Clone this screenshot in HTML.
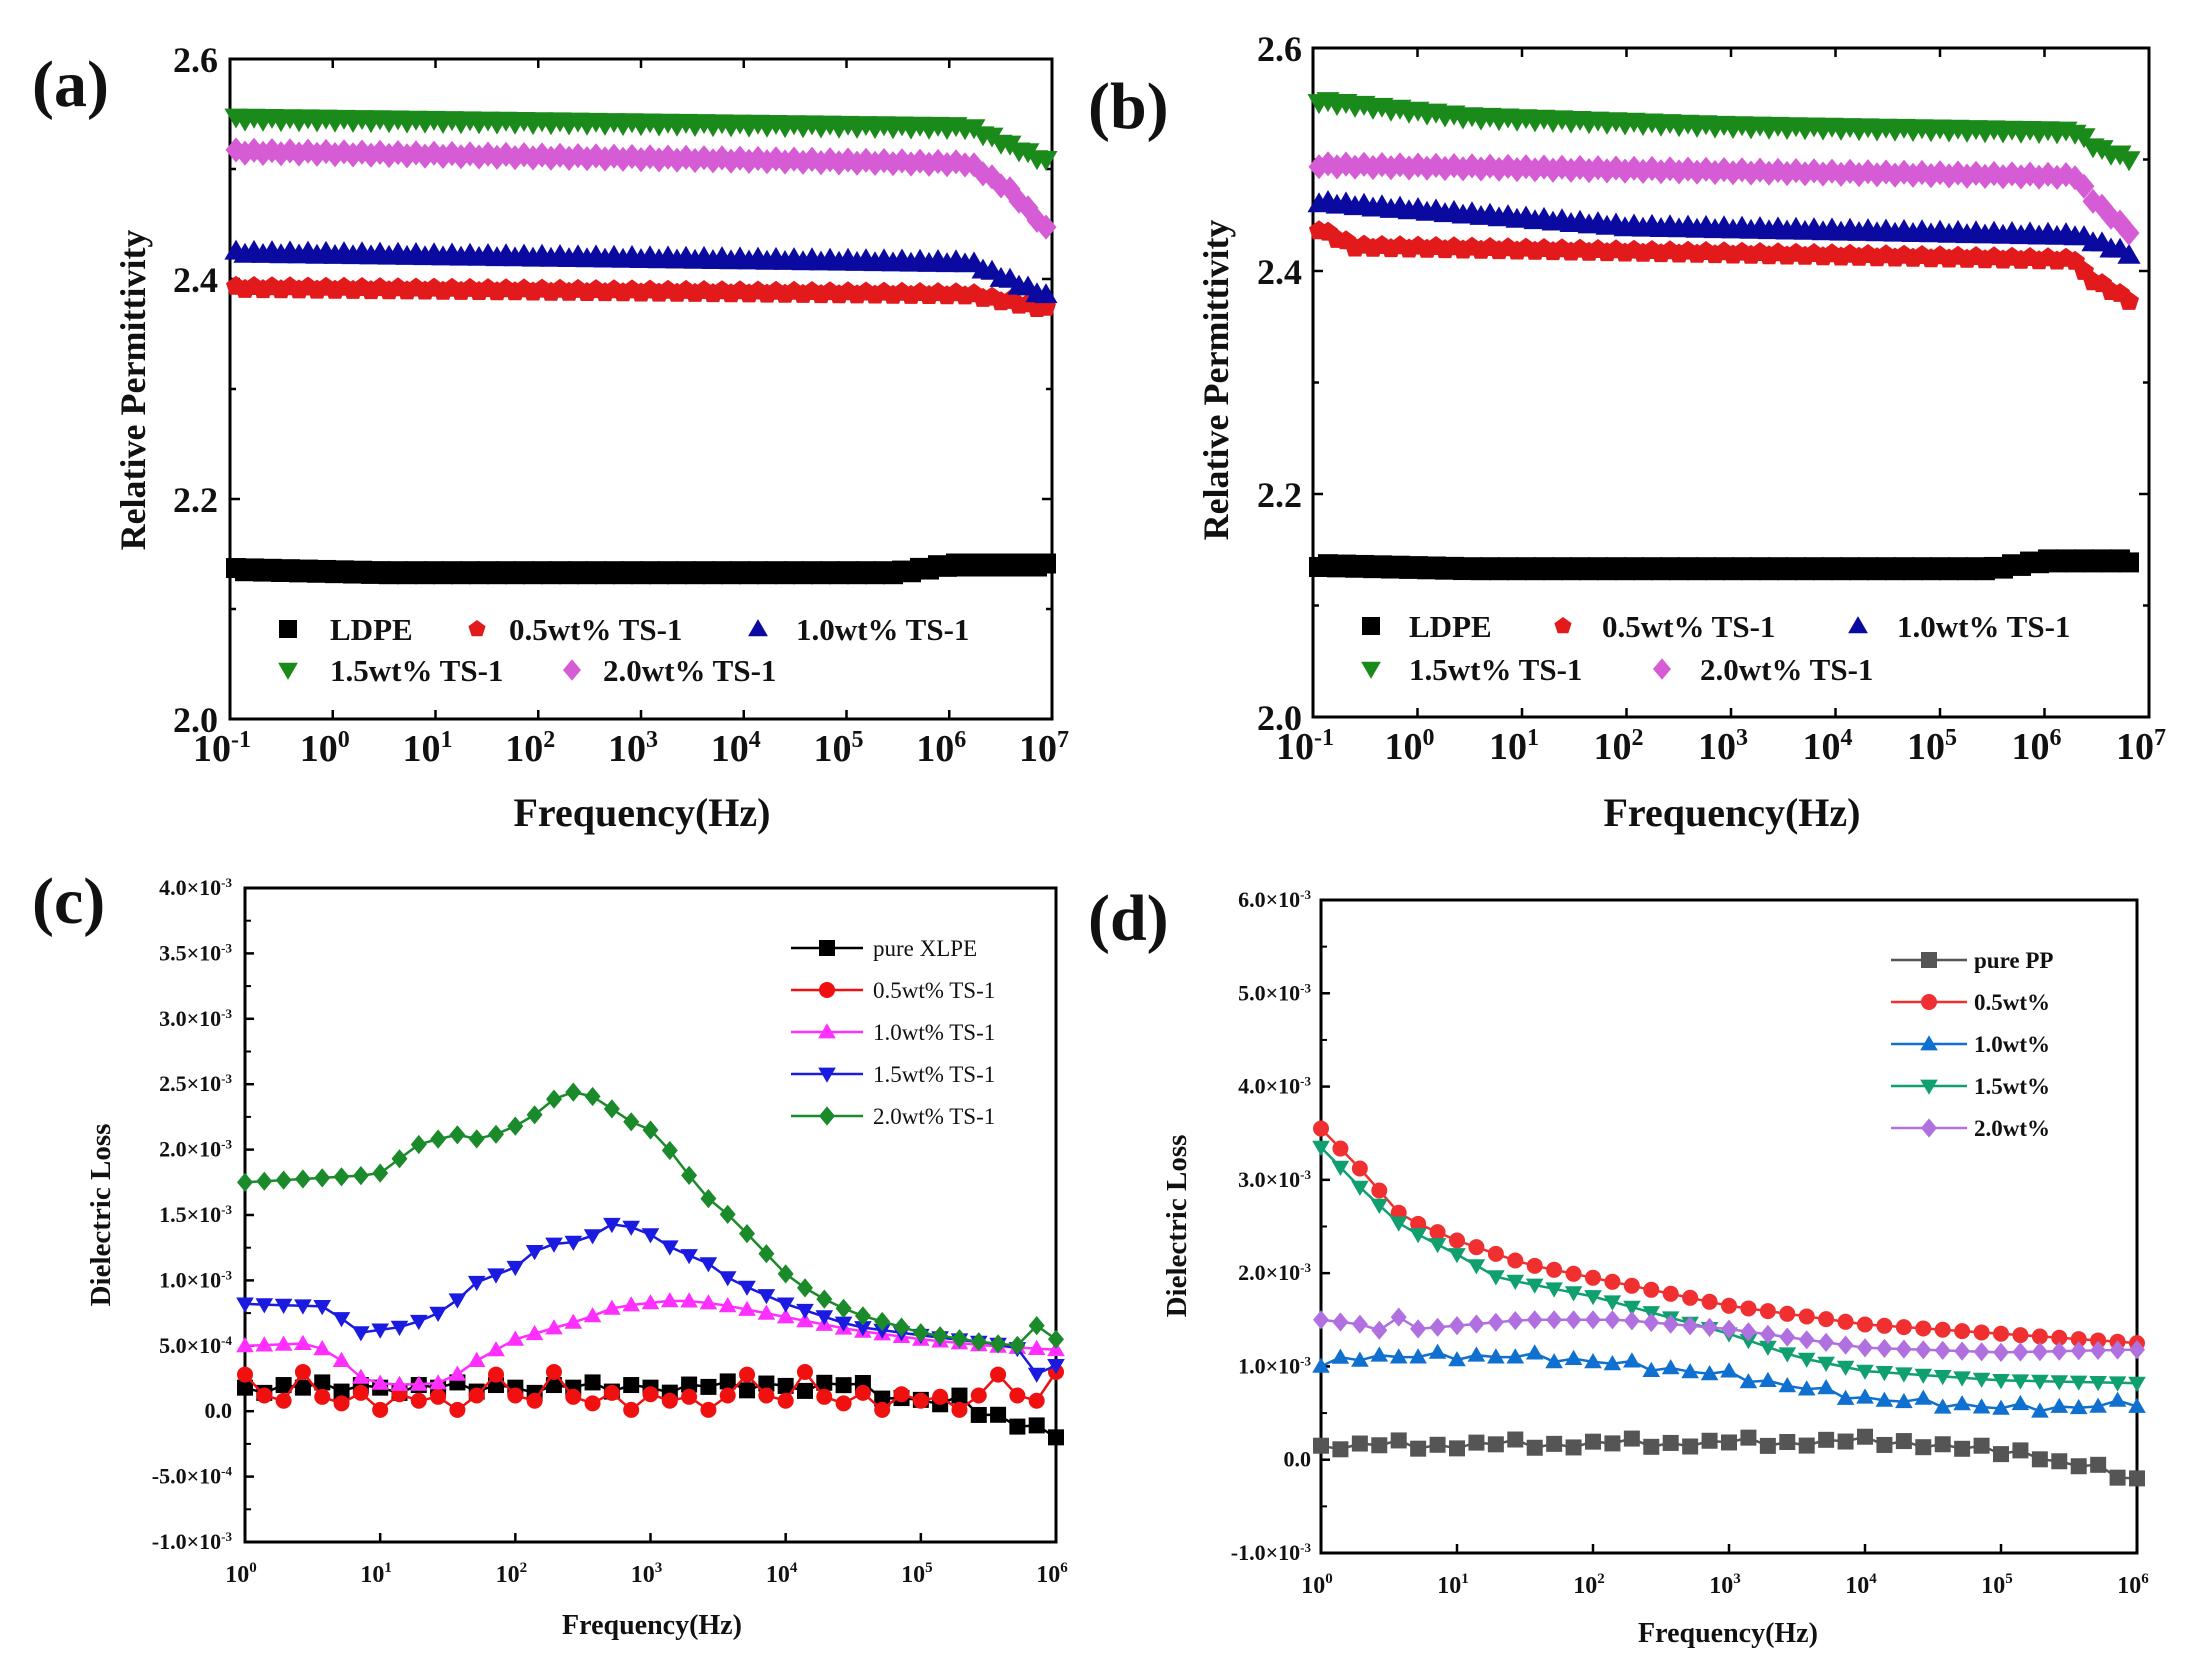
<!DOCTYPE html>
<html><head><meta charset="utf-8"><style>
html,body{margin:0;padding:0;background:#fff;}
svg{display:block;}
text{font-family:"Liberation Serif",serif;font-weight:bold;fill:#111;}
</style></head><body>
<svg id="s" xmlns="http://www.w3.org/2000/svg" width="2197" height="1680" viewBox="0 0 2197 1680">
<rect width="2197" height="1680" fill="#fff"/>
<g id="plots"></g>
<text x="32" y="106" font-size="66">(a)</text>
<text x="1088" y="128" font-size="66">(b)</text>
<text x="32" y="923" font-size="66">(c)</text>
<text x="1088" y="940" font-size="66">(d)</text>
<g font-size="36" text-anchor="end">
<text x="218" y="72">2.6</text><text x="218" y="292">2.4</text><text x="218" y="512">2.2</text><text x="218" y="732">2.0</text>
<text x="1302" y="61">2.6</text><text x="1302" y="284">2.4</text><text x="1302" y="507">2.2</text><text x="1302" y="730">2.0</text>
</g>
<g id="xa" font-size="38" text-anchor="middle"></g>
<text x="642" y="826" font-size="40" text-anchor="middle">Frequency(Hz)</text>
<text x="1732" y="826" font-size="40" text-anchor="middle">Frequency(Hz)</text>
<text transform="translate(145,390) rotate(-90)" font-size="36" text-anchor="middle">Relative Permittivity</text>
<text transform="translate(1228,380) rotate(-90)" font-size="36" text-anchor="middle">Relative Permittivity</text>
<g font-size="31">
<text x="330" y="640">LDPE</text><text x="509" y="640">0.5wt% TS-1</text><text x="796" y="640">1.0wt% TS-1</text>
<text x="330" y="681">1.5wt% TS-1</text><text x="603" y="681">2.0wt% TS-1</text>
<text x="1409" y="637">LDPE</text><text x="1602" y="637">0.5wt% TS-1</text><text x="1897" y="637">1.0wt% TS-1</text>
<text x="1409" y="680">1.5wt% TS-1</text><text x="1700" y="680">2.0wt% TS-1</text>
</g>
<g id="yc" font-size="22" text-anchor="end"></g>
<text x="652" y="1634" font-size="28" text-anchor="middle">Frequency(Hz)</text>
<text x="1728" y="1642" font-size="28" text-anchor="middle">Frequency(Hz)</text>
<text transform="translate(110,1215) rotate(-90)" font-size="29" text-anchor="middle">Dielectric Loss</text>
<text transform="translate(1186,1226) rotate(-90)" font-size="29" text-anchor="middle">Dielectric Loss</text>
<g font-size="23">
<text x="873" y="956" style="font-weight:normal">pure XLPE</text>
<text x="873" y="998" style="font-weight:normal">0.5wt% TS-1</text>
<text x="873" y="1040" style="font-weight:normal">1.0wt% TS-1</text>
<text x="873" y="1082" style="font-weight:normal">1.5wt% TS-1</text>
<text x="873" y="1124" style="font-weight:normal">2.0wt% TS-1</text>
</g>
<g font-size="23">
<text x="1974" y="968">pure PP</text><text x="1974" y="1010">0.5wt%</text><text x="1974" y="1052">1.0wt%</text>
<text x="1974" y="1094">1.5wt%</text><text x="1974" y="1136">2.0wt%</text>
</g>
</svg>
<script>
var NS="http://www.w3.org/2000/svg",P=document.getElementById('plots');
function el(t,a,par){var e=document.createElementNS(NS,t);for(var k in a)e.setAttribute(k,a[k]);(par||P).appendChild(e);return e;}
function mk(shape,x,y,s,c){
 var h=s/2,pts;
 if(shape=='sq')return el('rect',{x:x-h,y:y-h,width:s,height:s,fill:c});
 if(shape=='ci')return el('circle',{cx:x,cy:y,r:h,fill:c});
 if(shape=='up')pts=[[x,y-h*1.1],[x+h*1.1,y+h*0.8],[x-h*1.1,y+h*0.8]];
 if(shape=='dn')pts=[[x,y+h*1.1],[x+h*1.1,y-h*0.8],[x-h*1.1,y-h*0.8]];
 if(shape=='di')pts=[[x,y-h*1.2],[x+h,y],[x,y+h*1.2],[x-h,y]];
 if(shape=='pe'){pts=[];for(var i=0;i<5;i++){var a=-Math.PI/2+i*2*Math.PI/5;pts.push([x+h*Math.cos(a),y+h*Math.sin(a)]);}}
 return el('polygon',{points:pts.map(function(p){return p[0].toFixed(1)+','+p[1].toFixed(1)}).join(' '),fill:c});
}
function interp(k,t){if(t<=k[0][0])return k[0][1];for(var i=1;i<k.length;i++){if(t<=k[i][0]){var a=k[i-1],b=k[i];return a[1]+(b[1]-a[1])*(t-a[0])/(b[0]-a[0]);}}return k[k.length-1][1];}
function frame(x0,y0,x1,y1){el('rect',{x:x0,y:y0,width:x1-x0,height:y1-y0,fill:'none',stroke:'#000','stroke-width':3});}
function permPanel(x0,y0,x1,y1,xmax,data){
 frame(x0,y0,x1,y1);
 var X=function(t){return x0+(t+1)/8*(x1-x0)},Y=function(v){return y1-(v-2.0)/0.6*(y1-y0)};
 for(var d=-1;d<=7;d++){var x=X(d);el('line',{x1:x,y1:y1,x2:x,y2:y1-9,stroke:'#000','stroke-width':2.5});el('line',{x1:x,y1:y0,x2:x,y2:y0+9,stroke:'#000','stroke-width':2.5});
  var g=document.getElementById('xa');var t=el('text',{x:x-8,y:y1+42},g);t.textContent='10';var s=el('tspan',{dy:-14,'font-size':24},t);s.textContent=''+d;}
 for(var v=2.0;v<=2.61;v+=0.1){var y=Y(v),L=(Math.round(v*10)%2==0)?10:6;el('line',{x1:x0,y1:y,x2:x0+L,y2:y,stroke:'#000','stroke-width':2.5});el('line',{x1:x1,y1:y,x2:x1-L,y2:y,stroke:'#000','stroke-width':2.5});}
 data.forEach(function(s){
  for(var x=x0+6;x<=X(xmax);x+=9){var t=(x-x0)/(x1-x0)*8-1;var v=interp(s.k,t);mk(s.m,x,Y(v)+((Math.round(x/9)%2)?1.5:-1.5),s.sz||21,s.c);}
 });
}
permPanel(230,59,1052,719,7,[
 {m:'sq',c:'#000',k:[[-1,2.136],[0.5,2.133],[5.5,2.133],[6,2.14],[7,2.14]],sz:20},
 {m:'pe',c:'#e31a1c',k:[[-1,2.392],[6.2,2.386],[7,2.372]]},
 {m:'up',c:'#0a0aa0',k:[[-1,2.424],[6.2,2.415],[6.5,2.402],[7,2.382]]},
 {m:'di',c:'#d65cd6',k:[[-1,2.516],[6.2,2.505],[6.6,2.48],[7,2.44]]},
 {m:'dn',c:'#1a8a1a',k:[[-1,2.546],[6.2,2.538],[6.5,2.525],[7,2.505]]}
]);
permPanel(1313,48,2149,717,6.85,[
 {m:'sq',c:'#000',k:[[-1,2.136],[0.5,2.133],[5.5,2.133],[6,2.14],[7,2.14]],sz:20},
 {m:'pe',c:'#e31a1c',k:[[-1,2.44],[-0.6,2.422],[6.3,2.41],[6.4,2.395],[6.85,2.372]]},
 {m:'up',c:'#0a0aa0',k:[[-1,2.462],[2,2.44],[6.3,2.432],[6.85,2.414]]},
 {m:'di',c:'#d65cd6',k:[[-1,2.495],[6.3,2.485],[6.45,2.465],[6.85,2.432]]},
 {m:'dn',c:'#1a8a1a',k:[[-1,2.553],[0.5,2.538],[3,2.53],[6.3,2.525],[6.5,2.51],[6.85,2.50]]}
]);
function lossPanel(x0,y0,x1,y1,ymax,npd,series,ylabels,labx){
 frame(x0,y0,x1,y1);
 var X=function(t){return x0+t/6*(x1-x0)},Y=function(v){return y1-(v+1)/(ymax+1)*(y1-y0)};
 for(var d=0;d<=6;d++){var x=X(d);el('line',{x1:x,y1:y1,x2:x,y2:y1-9,stroke:'#000','stroke-width':2.5});
  var g=document.getElementById('xa');var t=el('text',{x:x-4,y:y1+40,'font-size':24},g);t.textContent='10';var s=el('tspan',{dy:-10,'font-size':15},t);s.textContent=''+d;}
 var yc=document.getElementById('yc');
 ylabels.forEach(function(l){var y=Y(l[0]);el('line',{x1:x0,y1:y,x2:x0+9,y2:y,stroke:'#000','stroke-width':2.5});
  var t=el('text',{x:labx,y:y+7},yc);t.textContent=l[1];if(l[2]){var s=el('tspan',{dy:-8,'font-size':13},t);s.textContent=l[2];}});
 var step=(ylabels[1][0]-ylabels[0][0])/2;
 for(var v=-1+step;v<ymax;v+=step*2){var y=Y(v);el('line',{x1:x0,y1:y,x2:x0+6,y2:y,stroke:'#000','stroke-width':2});}
 series.forEach(function(s){var pts=[];var n=Math.round(6*npd);
  for(var i=0;i<=n;i++){var t=i/npd;var v=interp(s.k,t)+(s.j?s.j[i%s.j.length]:0);pts.push([X(t),Y(v)]);}
  el('polyline',{points:pts.map(function(p){return p[0].toFixed(1)+','+p[1].toFixed(1)}).join(' '),fill:'none',stroke:s.c,'stroke-width':2.5});
  pts.forEach(function(p){mk(s.m,p[0],p[1],16,s.c);});
 });
}
var lc=[[-1,'-1.0×10','-3'],[-0.5,'-5.0×10','-4'],[0,'0.0'],[0.5,'5.0×10','-4'],[1,'1.0×10','-3'],[1.5,'1.5×10','-3'],[2,'2.0×10','-3'],[2.5,'2.5×10','-3'],[3,'3.0×10','-3'],[3.5,'3.5×10','-3'],[4,'4.0×10','-3']];
lossPanel(245,888,1056,1542,4,7,[
 {m:'sq',c:'#000',k:[[0,0.18],[3,0.18],[4.5,0.2],[4.85,0.08],[5.3,0.1],[5.45,-0.05],[5.8,-0.1],[6,-0.2]],j:[0,-0.04,0.02,0,0.04,-0.03,0.02]},
 {m:'ci',c:'#f01010',k:[[0,0.08],[6,0.08]],j:[0.2,0.04,0,0.22,0.03,-0.02,0.06,-0.07,0.05,0,0.03,-0.07,0.04]},
 {m:'up',c:'#ff30ff',k:[[0,0.5],[0.5,0.52],[0.7,0.4],[0.9,0.22],[1.2,0.2],[1.5,0.22],[1.65,0.35],[2,0.55],[2.5,0.7],[2.75,0.8],[3.2,0.85],[3.5,0.82],[4,0.72],[4.5,0.62],[5,0.55],[5.5,0.5],[6,0.47]]},
 {m:'dn',c:'#1a1ae0',k:[[0,0.82],[0.6,0.8],[0.85,0.6],[1.2,0.65],[1.5,0.78],[1.7,0.98],[2,1.1],[2.2,1.27],[2.5,1.3],[2.75,1.45],[3,1.35],[3.2,1.22],[3.4,1.15],[3.6,1.0],[4,0.82],[4.5,0.65],[5,0.58],[5.5,0.52],[5.7,0.5],[5.85,0.28],[6,0.35]]},
 {m:'di',c:'#1a8a2a',k:[[0,1.75],[0.85,1.8],[1,1.82],[1.3,2.05],[1.6,2.12],[1.75,2.07],[2,2.18],[2.2,2.3],[2.35,2.45],[2.5,2.43],[2.65,2.38],[2.8,2.22],[2.95,2.2],[3.1,2.05],[3.25,1.85],[3.4,1.65],[3.6,1.48],[3.75,1.32],[4,1.05],[4.2,0.9],[4.5,0.75],[5,0.6],[5.5,0.52],[5.75,0.5],[5.85,0.66],[6,0.55]]}
],lc,232);
var ld=[[-1,'-1.0×10','-3'],[0,'0.0'],[1,'1.0×10','-3'],[2,'2.0×10','-3'],[3,'3.0×10','-3'],[4,'4.0×10','-3'],[5,'5.0×10','-3'],[6,'6.0×10','-3']];
lossPanel(1321,900,2137,1553,6,7,[
 {m:'sq',c:'#555',k:[[0,0.15],[4.3,0.2],[4.55,0.15],[4.8,0.1],[5.2,0.1],[5.4,-0.03],[5.7,-0.1],[6,-0.2]],j:[0,-0.04,0.02,0,0.05,-0.04]},
 {m:'ci',c:'#f03030',k:[[0,3.55],[0.3,3.1],[0.6,2.6],[1,2.35],[1.5,2.1],[2,1.95],[3,1.65],[4,1.45],[5,1.35],[6,1.25]]},
 {m:'up',c:'#1070d0',k:[[0,1.0],[0.3,1.1],[1.5,1.1],[2,1.05],[3,0.9],[4,0.65],[5,0.55],[5.5,0.55],[6,0.6]],j:[0,0.05,-0.03,0.02,0]},
 {m:'dn',c:'#10a070',k:[[0,3.35],[0.3,2.9],[0.6,2.5],[1,2.2],[1.3,1.95],[2,1.75],[2.5,1.55],[3,1.35],[3.5,1.1],[4,0.95],[5,0.85],[6,0.82]]},
 {m:'di',c:'#b070e0',k:[[0,1.5],[0.3,1.45],[0.4,1.35],[0.55,1.55],[0.7,1.4],[1.5,1.5],[2.2,1.5],[3,1.4],[4,1.2],[5,1.15],[6,1.18]]}
],ld,1311);
[[288,629,'sq','#000'],[477,629,'pe','#e31a1c'],[758,629,'up','#0a0aa0'],[288,670,'dn','#1a8a1a'],[572,670,'di','#d65cd6'],
 [1371,626,'sq','#000'],[1563,626,'pe','#e31a1c'],[1858,626,'up','#0a0aa0'],[1371,669,'dn','#1a8a1a'],[1662,669,'di','#d65cd6']].forEach(function(m){mk(m[2],m[0],m[1],18,m[3]);});
[['sq','#000'],['ci','#f01010'],['up','#ff30ff'],['dn','#1a1ae0'],['di','#1a8a2a']].forEach(function(m,i){var y=948+42*i;el('line',{x1:791,y1:y,x2:863,y2:y,stroke:m[1],'stroke-width':2.5});mk(m[0],827,y,16,m[1]);});
[['sq','#555'],['ci','#f03030'],['up','#1070d0'],['dn','#10a070'],['di','#b070e0']].forEach(function(m,i){var y=960+42*i;el('line',{x1:1891,y1:y,x2:1967,y2:y,stroke:m[1],'stroke-width':2.5});mk(m[0],1929,y,16,m[1]);});
</script>
</body></html>
